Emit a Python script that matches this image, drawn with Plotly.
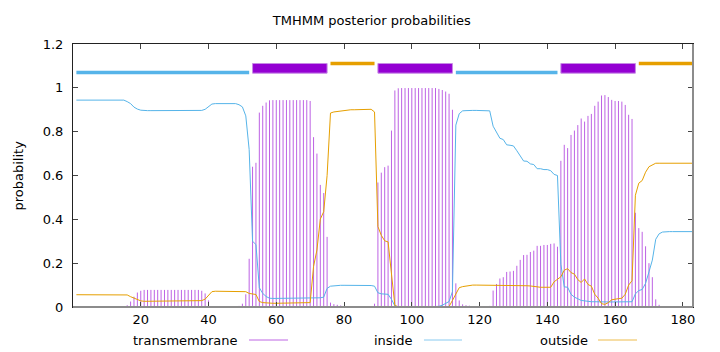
import plotly.graph_objects as go

residues = list(range(1, 184))

inside = [
    0.944, 0.944, 0.944, 0.944, 0.944, 0.944, 0.944, 0.944, 0.944, 0.944,
    0.944, 0.944, 0.944, 0.944, 0.944, 0.937, 0.928, 0.912, 0.903, 0.898,
    0.896, 0.896, 0.896, 0.896, 0.896, 0.896, 0.896, 0.896, 0.896, 0.896,
    0.896, 0.896, 0.896, 0.896, 0.896, 0.896, 0.896, 0.897, 0.902, 0.915,
    0.926, 0.928, 0.928, 0.928, 0.928, 0.928, 0.928, 0.928, 0.923, 0.913,
    0.872, 0.718, 0.300, 0.285, 0.088, 0.062, 0.048, 0.040, 0.039, 0.039,
    0.039, 0.039, 0.039, 0.039, 0.039, 0.039, 0.039, 0.039, 0.039, 0.040,
    0.040, 0.040, 0.042, 0.045, 0.085, 0.095, 0.097, 0.098, 0.099, 0.099,
    0.099, 0.099, 0.099, 0.099, 0.099, 0.099, 0.099, 0.098, 0.095, 0.065,
    0.060, 0.060, 0.058, 0.035, 0.005, 0.001, 0.0005, 0.0005, 0.0005, 0.0005,
    0.0005, 0.0005, 0.0005, 0.0005, 0.0005, 0.0005, 0.0005, 0.003, 0.008, 0.015,
    0.025, 0.070, 0.830, 0.882, 0.895, 0.896, 0.895, 0.897, 0.897, 0.897,
    0.897, 0.897, 0.895, 0.825, 0.795, 0.770, 0.764, 0.740, 0.738, 0.735,
    0.713, 0.687, 0.666, 0.665, 0.653, 0.650, 0.631, 0.631, 0.627, 0.627,
    0.622, 0.605, 0.600, 0.195, 0.092, 0.090, 0.058, 0.045, 0.036, 0.030,
    0.028, 0.025, 0.024, 0.024, 0.023, 0.023, 0.023, 0.023, 0.023, 0.023,
    0.023, 0.023, 0.023, 0.023, 0.024, 0.060, 0.075, 0.080, 0.108, 0.160,
    0.214, 0.309, 0.334, 0.342, 0.344, 0.344, 0.344, 0.344, 0.344, 0.344,
    0.344, 0.344, 0.344,
]

outside = [
    0.056, 0.056, 0.056, 0.056, 0.056, 0.056, 0.056, 0.056, 0.056, 0.056,
    0.056, 0.056, 0.056, 0.056, 0.056, 0.055, 0.047, 0.040, 0.032, 0.028,
    0.026, 0.026, 0.026, 0.026, 0.026, 0.026, 0.026, 0.026, 0.026, 0.026,
    0.026, 0.026, 0.026, 0.026, 0.026, 0.026, 0.026, 0.029, 0.036, 0.055,
    0.070, 0.072, 0.072, 0.072, 0.072, 0.072, 0.072, 0.072, 0.072, 0.072,
    0.070, 0.062, 0.060, 0.057, 0.025, 0.020, 0.019, 0.017, 0.017, 0.017,
    0.017, 0.017, 0.017, 0.017, 0.017, 0.017, 0.017, 0.017, 0.017, 0.020,
    0.185, 0.260, 0.401, 0.435, 0.600, 0.885, 0.890, 0.892, 0.894, 0.897,
    0.900, 0.900, 0.900, 0.900, 0.900, 0.900, 0.900, 0.902, 0.890, 0.367,
    0.327, 0.302, 0.297, 0.160, 0.007, 0.001, 0.0005, 0.0005, 0.0005, 0.0005,
    0.0005, 0.0005, 0.0005, 0.0005, 0.0005, 0.0005, 0.0005, 0.002, 0.002, 0.002,
    0.002, 0.030, 0.062, 0.088, 0.093, 0.096, 0.099, 0.100, 0.100, 0.100,
    0.100, 0.100, 0.100, 0.100, 0.100, 0.100, 0.100, 0.100, 0.100, 0.100,
    0.099, 0.098, 0.097, 0.097, 0.096, 0.093, 0.090, 0.090, 0.090, 0.090,
    0.090, 0.115, 0.125, 0.138, 0.168, 0.175, 0.157, 0.150, 0.125, 0.112,
    0.128, 0.103, 0.095, 0.058, 0.040, 0.015, 0.012, 0.020, 0.033, 0.037,
    0.038, 0.040, 0.058, 0.100, 0.120, 0.510, 0.565, 0.577, 0.615, 0.640,
    0.650, 0.656, 0.656, 0.656, 0.656, 0.656, 0.656, 0.656, 0.656, 0.656,
    0.656, 0.656, 0.656,
]

transmembrane = [
    0.0, 0.0, 0.0, 0.0, 0.0, 0.0, 0.0, 0.0, 0.0, 0.0,
    0.0, 0.0, 0.0, 0.0, 0.0, 0.008, 0.025, 0.047, 0.066, 0.074,
    0.078, 0.078, 0.078, 0.078, 0.078, 0.078, 0.078, 0.078, 0.078, 0.078,
    0.078, 0.078, 0.078, 0.078, 0.078, 0.078, 0.078, 0.074, 0.062, 0.030,
    0.004, 0.0, 0.0, 0.0, 0.0, 0.0, 0.0, 0.0, 0.005, 0.015,
    0.058, 0.220, 0.640, 0.658, 0.887, 0.918, 0.933, 0.943, 0.944, 0.944,
    0.944, 0.944, 0.944, 0.944, 0.944, 0.944, 0.944, 0.944, 0.944, 0.940,
    0.775, 0.700, 0.557, 0.520, 0.320, 0.020, 0.013, 0.010, 0.007, 0.004,
    0.001, 0.001, 0.001, 0.001, 0.001, 0.001, 0.001, 0.002, 0.015, 0.568,
    0.613, 0.638, 0.645, 0.805, 0.988, 0.998, 0.999, 0.999, 0.999, 0.999,
    0.999, 0.999, 0.999, 0.999, 0.999, 0.999, 0.999, 0.995, 0.990, 0.983,
    0.973, 0.900, 0.108, 0.030, 0.012, 0.008, 0.006, 0.003, 0.003, 0.003,
    0.003, 0.003, 0.005, 0.075, 0.105, 0.130, 0.136, 0.160, 0.162, 0.165,
    0.188, 0.215, 0.237, 0.238, 0.251, 0.257, 0.279, 0.279, 0.283, 0.283,
    0.288, 0.290, 0.275, 0.667, 0.740, 0.725, 0.785, 0.805, 0.830, 0.860,
    0.846, 0.872, 0.881, 0.918, 0.937, 0.965, 0.967, 0.958, 0.945, 0.940,
    0.940, 0.937, 0.922, 0.877, 0.858, 0.430, 0.360, 0.343, 0.277, 0.200,
    0.136, 0.035, 0.010, 0.003, 0.0, 0.0, 0.0, 0.0, 0.0, 0.0,
    0.0, 0.0, 0.0,
]

# predicted topology segments
seg_type = ["inside", "TMhelix", "outside", "TMhelix", "inside", "TMhelix", "outside"]
seg_start = [1, 53, 76, 90, 113, 144, 167]
seg_end = [52, 75, 89, 112, 143, 166, 183]

y_ticks = [0, 0.2, 0.4, 0.6, 0.8, 1.0, 1.2]
y_tick_text = ["0", "0.2", "0.4", "0.6", "0.8", "1", "1.2"]
x_ticks = [20, 40, 60, 80, 100, 120, 140, 160, 180]

TM_COL = "#9400d3"
IN_COL = "#56b4e9"
OUT_COL = "#e69f00"
FONT = "DejaVu Sans"

fig = go.Figure()

# transmembrane impulses
ix, iy = [], []
for r, v in zip(residues, transmembrane):
    ix += [r, r, None]
    iy += [0, v, None]
fig.add_trace(go.Scatter(x=ix, y=iy, mode="lines",
                         line=dict(color="rgba(148,0,211,0.62)", width=1),
                         hoverinfo="skip", showlegend=False))
fig.add_trace(go.Scatter(x=residues, y=inside, mode="lines",
                         line=dict(color=IN_COL, width=1), showlegend=False))
fig.add_trace(go.Scatter(x=residues, y=outside, mode="lines",
                         line=dict(color=OUT_COL, width=1), showlegend=False))

# topology bars on top
seg_y = {"inside": 1.07, "outside": 1.111}
seg_col = {"inside": IN_COL, "outside": OUT_COL}
for kind in ["inside", "outside"]:
    sx, sy = [], []
    for t, s, e in zip(seg_type, seg_start, seg_end):
        if t == kind:
            sx += [s, e, None]
            sy += [seg_y[kind], seg_y[kind], None]
    fig.add_trace(go.Scatter(x=sx, y=sy, mode="lines",
                             line=dict(color=seg_col[kind], width=3.5),
                             hoverinfo="skip", showlegend=False))

shapes = []
for t, s, e in zip(seg_type, seg_start, seg_end):
    if t == "TMhelix":
        shapes.append(dict(type="rect", xref="x", yref="y", x0=s, x1=e,
                           y0=1.067, y1=1.111, fillcolor=TM_COL,
                           line=dict(color="#c78ae6", width=1), layer="above"))

# bottom/right border drawn half-pixel (grey, 2px) as in the reference
shapes.append(dict(type="line", xref="paper", yref="paper", x0=0, x1=1, y0=0, y1=0,
                   line=dict(color="#8c8c8c", width=2), layer="above"))
shapes.append(dict(type="line", xref="paper", yref="paper", x0=1, x1=1, y0=0, y1=1,
                   line=dict(color="#8c8c8c", width=2), layer="above"))

# legend (text before sample line, gnuplot style)
legend_items = [("transmembrane", "rgba(148,0,211,0.6)", 0.2694, 0.2839, 0.3468),
                ("inside", "rgba(86,180,233,0.7)", 0.5516, 0.5661, 0.6274),
                ("outside", "rgba(230,159,0,0.7)", 0.8339, 0.8468, 0.9097)]
annotations = []
leg_y = -0.1255
for name, col, tx, lx0, lx1 in legend_items:
    annotations.append(dict(text=name, xref="paper", yref="paper", x=tx, y=leg_y,
                            xanchor="right", yanchor="middle", showarrow=False,
                            font=dict(family=FONT, size=13, color="#000")))
    shapes.append(dict(type="line", xref="paper", yref="paper", x0=lx0, x1=lx1,
                       y0=leg_y, y1=leg_y, line=dict(color=col, width=1)))

annotations.append(dict(text="probability", xref="paper", yref="paper",
                        x=-0.0887, y=0.5, textangle=-90, showarrow=False,
                        xanchor="center", yanchor="middle",
                        font=dict(family=FONT, size=13, color="#000")))

fig.update_layout(
    width=720, height=352,
    margin=dict(l=73, r=27, t=44, b=45),
    paper_bgcolor="white", plot_bgcolor="white",
    title=dict(text="TMHMM posterior probabilities", x=0.482, xref="paper",
               y=1 - 20 / 352, yref="container", xanchor="center", yanchor="middle",
               font=dict(family=FONT, size=13, color="#000")),
    font=dict(family=FONT, size=13, color="#000"),
    shapes=shapes, annotations=annotations,
    showlegend=False,
)
fig.update_xaxes(range=[0, 183], tickvals=x_ticks, ticks="inside", ticklen=5,
                 tickcolor="#444", showline=True, linecolor="#222", linewidth=1,
                 mirror="ticks", showgrid=False, zeroline=False,
                 tickfont=dict(family=FONT, size=13, color="#000"))
fig.update_yaxes(range=[0, 1.2], tickvals=y_ticks, ticktext=y_tick_text,
                 ticks="inside", ticklen=5, tickcolor="#444", showline=True,
                 linecolor="#222", linewidth=1, mirror="ticks", showgrid=False,
                 zeroline=False, ticklabelstandoff=6,
                 tickfont=dict(family=FONT, size=13, color="#000"))

fig.write_html("out.html")
